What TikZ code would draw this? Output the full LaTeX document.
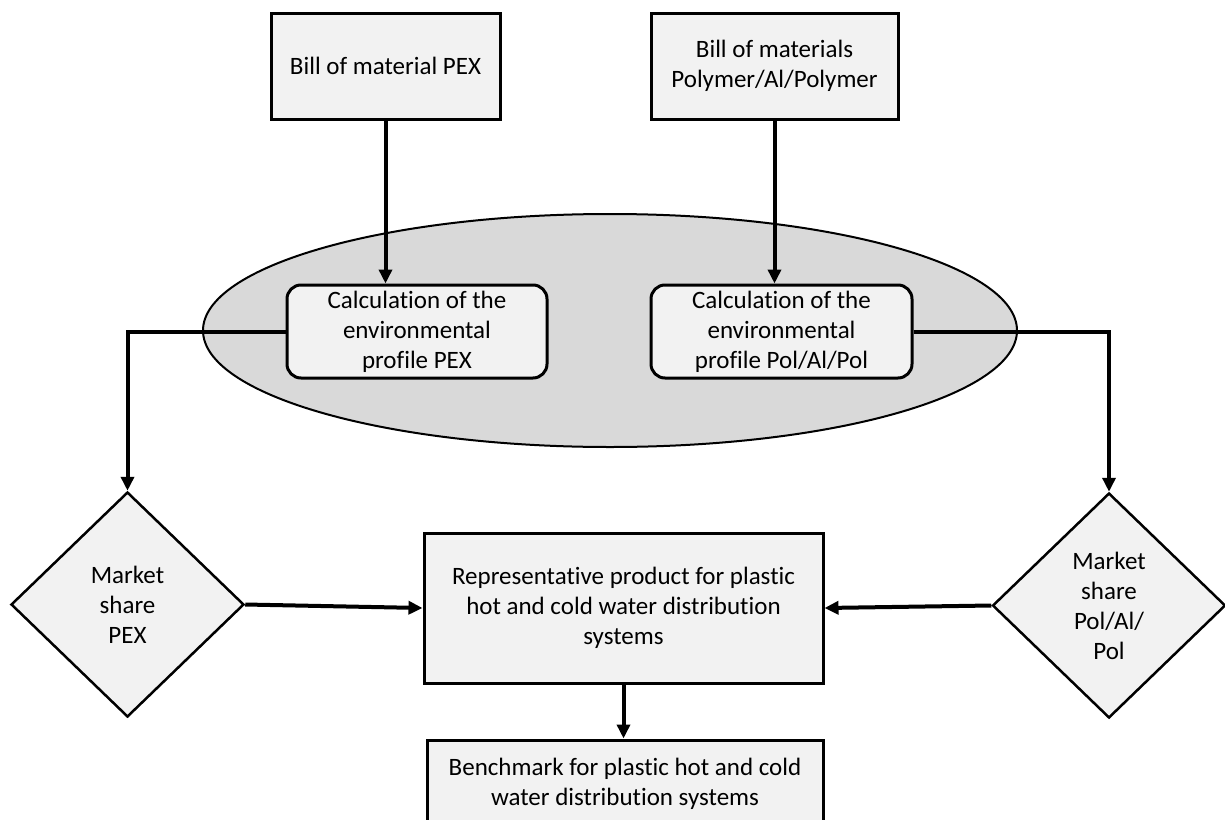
\documentclass[tikz,border=0pt]{standalone}
\usepackage{fontspec}
\setmainfont[Ligatures=NoCommon]{Carlito}
\usetikzlibrary{shapes.geometric, arrows.meta, calc}
\definecolor{boxgray}{HTML}{F2F2F2}
\definecolor{ovalgray}{HTML}{D9D9D9}

\begin{document}
\begin{tikzpicture}[x=1pt, y=-1pt, font=\fontsize{25}{30}\selectfont]
    \tikzstyle{material} = [rectangle, minimum height=106pt, text centered, align=center, draw=black, line width=3pt, fill=boxgray]
    \tikzstyle{oval} = [ellipse, minimum width=814pt, minimum height=233pt, draw=black, line width=2pt, fill=ovalgray]
    \tikzstyle{profile} = [rectangle, rounded corners=14pt, minimum height=93pt, inner sep=1pt, text centered, align=center, draw=black, line width=3pt, fill=boxgray]
    \tikzstyle{share} = [diamond, minimum width=233pt, minimum height=225pt, inner sep=0pt, text centered, align=center, draw=black, line width=2.5pt, fill=boxgray]
    \tikzstyle{product} = [rectangle, text centered, align=center, draw=black, line width=3pt, fill=boxgray]
    \tikzstyle{arrow} = [line width=4pt, ->, >={Triangle[length=14pt, width=13pt]}]

    \clip (0,0) rectangle (1225,819);
    \fill[white] (0,0) rectangle (1225,819);

    \node (bompex) [material, minimum width=229pt] at (385.5,66) {Bill of material PEX};
    \node (bompol) [material, minimum width=247pt] at (774.5,66) {Bill of materials\\Polymer/Al/Polymer};
    \node (calczone) [oval] at (610,330.5) {};
    \node (calcpex) [profile, minimum width=260pt] at (417,331.5) {Calculation of the\\environmental\\profile PEX};
    \node (calcpol) [profile, minimum width=261pt] at (781.5,331.5) {Calculation of the\\environmental\\profile Pol/Al/Pol};
    \node (sharepex) [share] at (127.5,604.5) {Market\\share\\PEX};
    \node (sharepol) [share] at (1109,605.5) {Market\\share\\Pol/Al/\\Pol};
    \node (represent) [product, minimum width=399pt, minimum height=150pt] at (623.5,608) {Representative product for plastic\\hot and cold water distribution\\systems};
    \node (bench) [product, minimum width=396pt, minimum height=88pt] at (625,784) {Benchmark for plastic hot and cold\\water distribution systems};

    \draw [arrow] (bompex.south) -- (bompex.south |- calcpex.north);
    \draw [arrow] (bompol.south) -- (bompol.south |- calcpol.north);
    \draw [arrow] (calcpex.west) -| (sharepex.north);
    \draw [arrow] (calcpol.east) -| (sharepol.north);
    \draw [arrow] (sharepex.east) -- (represent.west);
    \draw [arrow] (sharepol.west) -- (represent.east);
    \draw [arrow] (represent.south) -- (represent.south |- bench.north);
  \end{tikzpicture}
\end{document}
